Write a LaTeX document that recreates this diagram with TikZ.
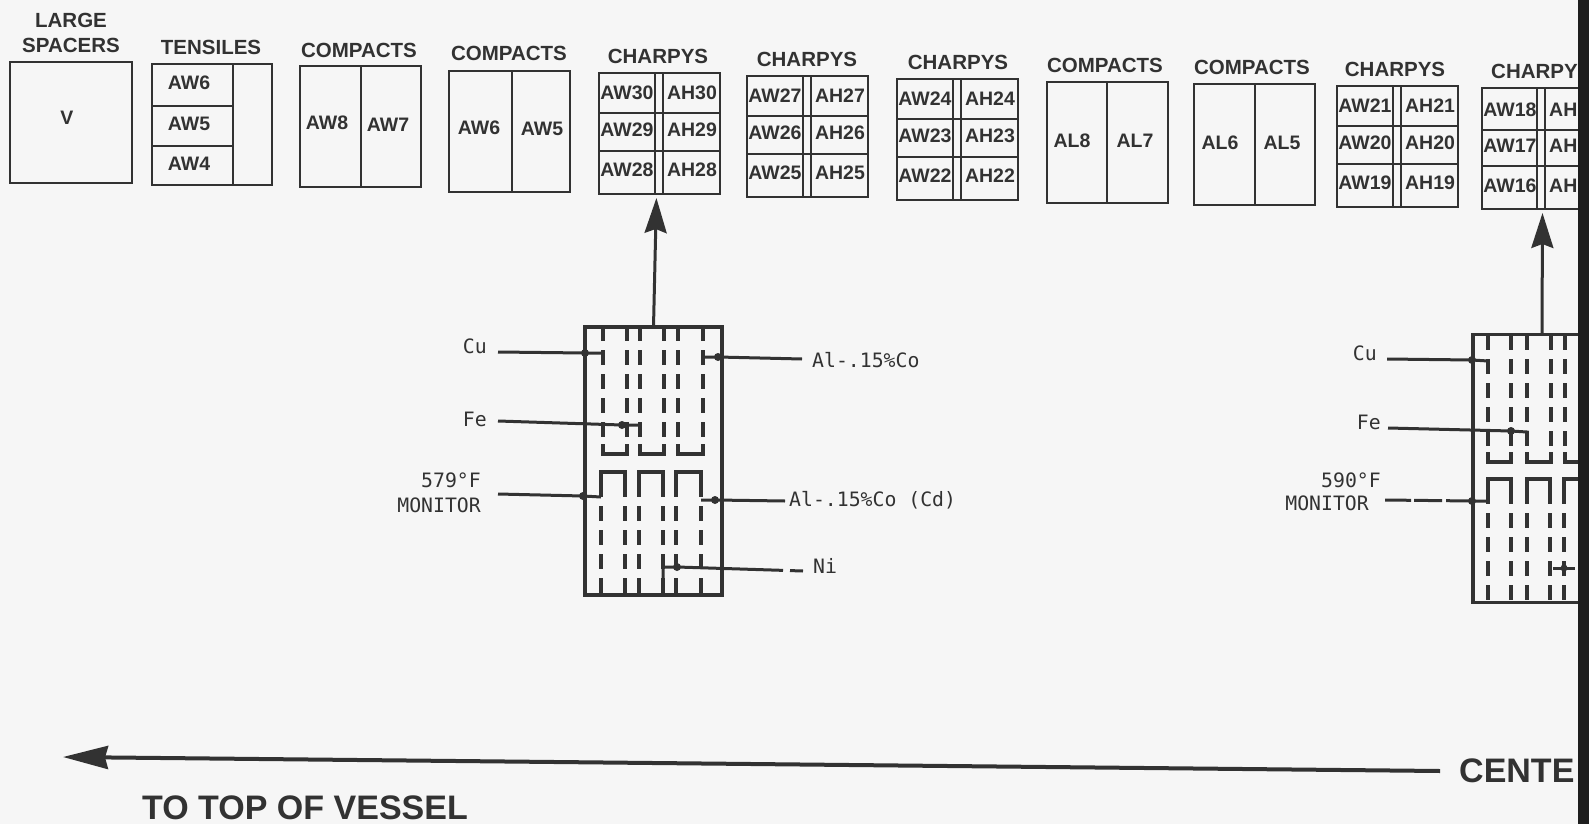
\documentclass[tikz,border=0pt]{standalone}
\usepackage{xcolor}
\usepackage{fontspec}
\usepackage{tikz}
\usetikzlibrary{arrows.meta}
\setmainfont{Liberation Sans}
\newfontfamily\typedfont{DejaVu Sans Mono}
\definecolor{paperwhite}{RGB}{246, 246, 246}
\definecolor{printink}{RGB}{50, 50, 50}
\definecolor{scanblack}{RGB}{30, 30, 30}

\tikzset{
  headtext/.style={text=printink, inner sep=0pt, align=center, font=\bfseries\fontsize{20.5}{25}\selectfont},
  celltext/.style={text=printink, inner sep=0pt, font=\bfseries\fontsize{19.5}{22}\selectfont},
  typedtext/.style={text=printink, inner sep=0pt, font=\typedfont\fontsize{19.8}{24}\selectfont},
  specbox/.style={draw=printink, line width=2pt, anchor=north west, inner sep=0pt, outer sep=0pt, minimum width=121pt, minimum height=121pt},
  divider/.style={printink, line width=2pt},
  capsule/.style={draw=printink, line width=3.5pt, inner sep=0pt, outer sep=0pt, minimum height=268pt},
  column/.style={printink, line width=4pt, dash pattern=on 15pt off 9pt},
  closure/.style={printink, line width=4pt},
  wire/.style={printink, line width=3pt},
  wiredot/.style={circle, fill=printink, inner sep=0pt, minimum size=8pt},
  liftarrow/.style={->, >={Stealth[length=35pt, width=22pt, inset=4pt]}, printink, line width=3pt, shorten >=4pt},
}

\begin{document}
\begin{tikzpicture}[x=1pt, y=-1pt]
\useasboundingbox (0,0) rectangle (1589,824);
\fill[paperwhite] (0,0) rectangle (1589,824);

% Specimen boxes, left to right
\node[headtext] (headLarge) at (71,33) {LARGE\\SPACERS};
\node[specbox, minimum width=122pt] (boxV) at (10,62) {};
\node[celltext] (cellV) at (67,118) {V};

\node[headtext] (headTensile) at (211,47) {TENSILES};
\node[specbox, minimum width=120pt] (boxTensile) at (152,64) {};
\draw[divider] (233,64) -- (233,184);
\draw[divider] (152,106) -- (233,106);
\draw[divider] (152,146) -- (233,146);
\node[celltext] (cellAWsix) at (189,83) {AW6};
\node[celltext] (cellAWfive) at (189,124) {AW5};
\node[celltext] (cellAWfour) at (189,164) {AW4};

\node[headtext] (headCompactA) at (359,50) {COMPACTS};
\node[specbox] (boxCompactA) at (300,66) {};
\draw[divider] (361,66) -- (361,187);
\node[celltext] (cellAWeight) at (327,123) {AW8};
\node[celltext] (cellAWseven) at (388,125) {AW7};

\node[headtext] (headCompactB) at (509,53) {COMPACTS};
\node[specbox] (boxCompactB) at (449,71) {};
\draw[divider] (512,71) -- (512,192);
\node[celltext] (cellAWsixB) at (479,128) {AW6};
\node[celltext] (cellAWfiveB) at (542,129) {AW5};

\node[headtext] (headCompactC) at (1105,65) {COMPACTS};
\node[specbox] (boxCompactC) at (1047,82) {};
\draw[divider] (1107,82) -- (1107,203);
\node[celltext] (cellALeight) at (1072,141) {AL8};
\node[celltext] (cellALseven) at (1135,141) {AL7};

\node[headtext] (headCompactD) at (1252,67) {COMPACTS};
\node[specbox] (boxCompactD) at (1194,84) {};
\draw[divider] (1255,84) -- (1255,205);
\node[celltext] (cellALsix) at (1220,143) {AL6};
\node[celltext] (cellALfive) at (1282,143) {AL5};

% Charpy boxes
\foreach \x/\y/\a/\b/\c/\hx in {599/73/30/29/28/658, 747/76/27/26/25/807, 897/79/24/23/22/958, 1337/86/21/20/19/1395} {
  \node[headtext] (headCharpy\a) at (\hx,\y-17) {CHARPYS};
  \node[specbox] (box\a) at (\x,\y) {};
  \draw[divider] (\x+56,\y) -- (\x+56,\y+121);
  \draw[divider] (\x+64,\y) -- (\x+64,\y+121);
  \draw[divider] (\x,\y+40) -- (\x+121,\y+40);
  \draw[divider] (\x,\y+78) -- (\x+121,\y+78);
  \node[celltext] (cellAW\a) at (\x+28,\y+20) {AW\a};
  \node[celltext] (cellAH\a) at (\x+93,\y+20) {AH\a};
  \node[celltext] (cellAW\b) at (\x+28,\y+57) {AW\b};
  \node[celltext] (cellAH\b) at (\x+93,\y+57) {AH\b};
  \node[celltext] (cellAW\c) at (\x+28,\y+97) {AW\c};
  \node[celltext] (cellAH\c) at (\x+93,\y+97) {AH\c};
}

% Charpy box running into the edge of the sheet
\node[headtext, anchor=west] (headCharpyLast) at (1491,71) {CHARPY};
\node[specbox] (boxLast) at (1482,88) {};
\draw[divider] (1537,88) -- (1537,209);
\draw[divider] (1545,88) -- (1545,209);
\draw[divider] (1482,130) -- (1600,130);
\draw[divider] (1482,166) -- (1600,166);
\foreach \a/\y in {18/110, 17/146, 16/186} {
  \node[celltext] (cellAW\a) at (1510,\y) {AW\a};
  \node[celltext, anchor=west] (cellAH\a) at (1549,\y) {AH};
}

% Monitor capsule 579
\node[capsule, minimum width=137pt] (capsuleA) at (653.5,461) {};
\foreach \l/\r in {603/627, 640/664, 678/703} {
  \draw[column] (\l,326) -- (\l,444);
  \draw[column] (\r,326) -- (\r,444);
  \draw[closure] (\l,444) -- (\l,454) -- (\r,454) -- (\r,444);
}
\foreach \l/\r in {601/625, 639/663, 676/701} {
  \draw[closure] (\l,482) -- (\l,472) -- (\r,472) -- (\r,482);
  \draw[column] (\l,482) -- (\l,595);
  \draw[column] (\r,482) -- (\r,595);
}

\node[typedtext, anchor=east] (labelCuA) at (487,346) {Cu};
\node[typedtext, anchor=east] (labelFeA) at (487,419) {Fe};
\node[typedtext, anchor=east] (labelTempA) at (481,480) {579°F};
\node[typedtext, anchor=east] (labelMonA) at (481,505) {MONITOR};
\node[typedtext, anchor=west] (labelCoA) at (812,360) {Al-.15\%Co};
\node[typedtext, anchor=west] (labelCdA) at (789,500) {Al-.15\%Co (Cd)};
\node[typedtext, anchor=west] (labelNiA) at (813,566) {Ni};

\node[wiredot] (dotCuA) at (585,353) {};
\node[wiredot] (dotFeA) at (622,425) {};
\node[wiredot] (dotMonA) at (583,496) {};
\node[wiredot] (dotCoA) at (718,357) {};
\node[wiredot] (dotCdA) at (715,500) {};
\node[wiredot] (dotNiA) at (677,567) {};

\coordinate (startCuA) at (498,352);
\coordinate (startFeA) at (498,421);
\coordinate (startMonA) at (498,494);
\coordinate (startCoA) at (802,359);
\coordinate (startCdA) at (785,501);
\coordinate (startNiA) at (803,571);
\coordinate (endCuA) at (603,353);
\coordinate (endFeA) at (640,425);
\coordinate (endMonA) at (601,497);
\coordinate (endCoA) at (703,357);
\coordinate (endCdA) at (701,500);
\coordinate (endNiA) at (663,567);

\draw[wire] (startCuA) -- (dotCuA.center) -- (endCuA);
\draw[wire] (startFeA) -- (dotFeA.center) -- (endFeA) -- ++(0,10);
\draw[wire] (startMonA) -- (dotMonA.center) -- (endMonA);
\draw[wire] (startCoA) -- (dotCoA.center) -- (endCoA);
\draw[wire] (startCdA) -- (dotCdA.center) -- (endCdA);
\draw[wire, dash pattern=on 13pt off 7pt on 200pt] (startNiA) -- (dotNiA.center) -- (endNiA) -- ++(0,13);

\draw[liftarrow] (capsuleA.north) -- ([xshift=-3pt]box30.south);

% Monitor capsule 590
\node[capsule, minimum width=138pt] (capsuleB) at (1542,468.5) {};
\foreach \l/\r in {1488/1511, 1527/1551, 1565/1590} {
  \draw[column] (\l,335) -- (\l,452);
  \draw[column] (\r,335) -- (\r,452);
  \draw[closure] (\l,452) -- (\l,462) -- (\r,462) -- (\r,452);
}
\foreach \l/\r in {1488/1511, 1527/1550, 1564/1590} {
  \draw[closure] (\l,489) -- (\l,479) -- (\r,479) -- (\r,489);
  \draw[column] (\l,489) -- (\l,601);
  \draw[column] (\r,489) -- (\r,601);
}

\node[typedtext, anchor=east] (labelCuB) at (1377,353) {Cu};
\node[typedtext, anchor=east] (labelFeB) at (1381,422) {Fe};
\node[typedtext, anchor=east] (labelTempB) at (1381,480) {590°F};
\node[typedtext, anchor=east] (labelMonB) at (1369,503) {MONITOR};

\node[wiredot] (dotCuB) at (1472,360) {};
\node[wiredot] (dotFeB) at (1511,431) {};
\node[wiredot] (dotMonB) at (1472,501) {};
\node[wiredot, minimum size=7pt] (dotNiB) at (1564,568) {};

\coordinate (startCuB) at (1387,359);
\coordinate (startFeB) at (1388,428);
\coordinate (startMonB) at (1385,500);
\coordinate (endCuB) at (1488,361);
\coordinate (endFeB) at (1527,432);
\coordinate (endMonB) at (1488,501);

\draw[wire] (startCuB) -- (dotCuB.center) -- (endCuB);
\draw[wire] (startFeB) -- (dotFeB.center) -- (endFeB) -- ++(0,11);
\draw[wire, dash pattern=on 26pt off 3pt on 28pt off 4pt] (startMonB) -- (dotMonB.center) -- (endMonB);
\draw[wire] (1553,568) -- (1575,568);

\draw[liftarrow] (capsuleB.north) -- (boxLast.south);

% Long arrow along the bottom
\node[headtext, anchor=west, font=\bfseries\fontsize{34}{38}\selectfont] (labelCenter) at (1459,771) {CENTE};
\node[headtext, anchor=west, font=\bfseries\fontsize{34}{38}\selectfont] (labelTop) at (142,808) {TO TOP OF VESSEL};
\coordinate (vesselTip) at (63,757);
\draw[->, >={Stealth[length=45pt, width=23pt, inset=3pt]}, printink, line width=4pt] (labelCenter.west) ++(-19,0) -- (vesselTip);

% Dark edge of the scan
\fill[scanblack] (1578,0) rectangle (1589,824);
\end{tikzpicture}
\end{document}
